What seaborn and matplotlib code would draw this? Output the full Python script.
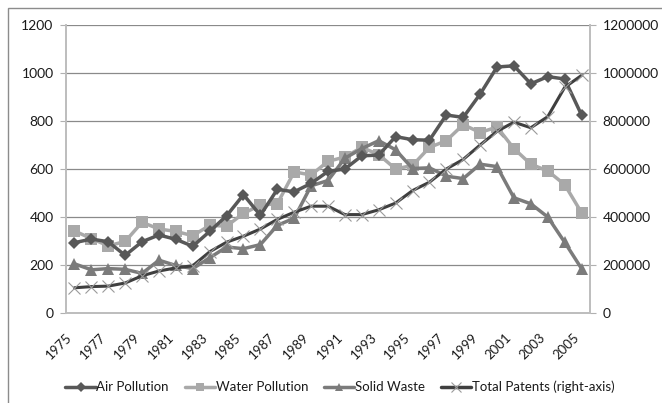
import matplotlib
matplotlib.use("Agg")
import matplotlib.pyplot as plt
import matplotlib.transforms as mtransforms
import seaborn as sns
import pandas as pd
import numpy as np
from matplotlib.lines import Line2D

years = list(range(1975, 2006))
air = [293, 308, 297, 240, 297, 325, 307, 278, 340, 405, 493, 407, 515, 505, 540, 590,
       600, 655, 658, 735, 722, 720, 825, 815, 912, 1025, 1030, 955, 985, 975, 825]
water = [342, 310, 280, 298, 378, 350, 340, 322, 365, 362, 415, 450, 455, 588, 575, 632,
         650, 690, 660, 600, 615, 690, 718, 785, 752, 775, 685, 620, 592, 535, 418]
solid = [205, 180, 185, 182, 165, 220, 198, 185, 230, 275, 268, 285, 365, 395, 530, 552,
         645, 685, 718, 680, 602, 605, 570, 560, 620, 610, 480, 455, 400, 295, 185]
total = [105000, 110000, 112000, 125000, 155000, 175000, 188000, 197000, 255000, 295000,
         320000, 350000, 390000, 420000, 445000, 445000, 410000, 410000, 430000, 458000,
         510000, 545000, 600000, 640000, 700000, 757000, 795000, 772000, 818000, 940000, 990000]
labels = ["Air Pollution", "Water Pollution", "Solid Waste", "Total Patents (right-axis)"]

sns.set_style("white")
plt.rcParams['font.family'] = ['Lato', 'DejaVu Sans']
plt.rcParams['text.color'] = "#1a1a1a"
plt.rcParams['xtick.color'] = "#1a1a1a"
plt.rcParams['ytick.color'] = "#1a1a1a"

fig = plt.figure(figsize=(6.62, 4.03), dpi=100)
fig.patches.append(plt.Rectangle((8/662, -0.1), 1.2, 1 - 8/403 + 0.1, transform=fig.transFigure,
                                 fill=False, edgecolor="#8c8c8c", lw=1.0))
ax = fig.add_axes([66/662, 90/403, 524/662, 288/403])
ax2 = ax.twinx()

idx = np.arange(len(years))
df = pd.DataFrame({"i": idx, "air": air, "water": water, "solid": solid, "total": total})

c_air, c_water, c_solid, c_total = "#585858", "#a9a9a9", "#7b7b7b", "#3f3f3f"

sns.lineplot(data=df, x="i", y="water", ax=ax, color=c_water, lw=2.5, marker="s", markersize=8,
             markeredgewidth=0, zorder=3)
sns.lineplot(data=df, x="i", y="solid", ax=ax, color=c_solid, lw=2.5, marker="^", markersize=8,
             markeredgewidth=0, zorder=3)
sns.lineplot(data=df, x="i", y="air", ax=ax, color=c_air, lw=2.5, marker="D", markersize=6,
             markeredgewidth=0, zorder=4)
sns.lineplot(data=df, x="i", y="total", ax=ax2, color=c_total, lw=2.2, marker="x", markersize=9,
             markeredgewidth=0.8, markeredgecolor="#9a9a9a", zorder=5)

ax.set_xlim(-0.5, len(years) - 0.5)
ax.set_ylim(0, 1200)
ax2.set_ylim(0, 1200000)
ax.set_yticks(range(0, 1201, 200))
ax2.set_yticks(range(0, 1200001, 200000))
ax2.set_yticklabels([str(v) for v in range(0, 1200001, 200000)])
ax.grid(axis="y", color="#8a8a8a", lw=0.9)
ax.set_axisbelow(True)
ax.set_xlabel("")
ax.set_ylabel("")
ax2.set_ylabel("")

fs = 10
ax.set_xticks(idx[::2])
ax.set_xticklabels([str(y) for y in years[::2]], rotation=45, fontsize=9.5, ha="right", va="top")
offset = mtransforms.ScaledTranslation(5/100, 0, fig.dpi_scale_trans)
for lab in ax.get_xticklabels():
    lab.set_transform(lab.get_transform() + offset)
ax.set_xticks(np.arange(-0.5, len(years), 1), minor=True)
ax.tick_params(axis="x", which="major", length=0, pad=13)
ax.tick_params(axis="x", which="minor", length=4, color="#b0b0b0", width=1)
ax.tick_params(axis="y", which="major", length=4, color="#b0b0b0", labelsize=fs, pad=5)
ax2.tick_params(axis="y", which="major", length=4, color="#b0b0b0", labelsize=fs, pad=5)
for a in (ax, ax2):
    a.spines["top"].set_visible(False)
    for s in ["left", "right", "bottom"]:
        a.spines[s].set_color("#bdbdbd")
        a.spines[s].set_linewidth(1.2)

handles = [
    Line2D([], [], color=c_air, lw=2.5, marker="D", markersize=5, markeredgewidth=0),
    Line2D([], [], color=c_water, lw=2.5, marker="s", markersize=6, markeredgewidth=0),
    Line2D([], [], color=c_solid, lw=2.5, marker="^", markersize=6, markeredgewidth=0),
    Line2D([], [], color=c_total, lw=2.5, marker="x", markersize=7, markeredgewidth=0.8,
           markeredgecolor="#9a9a9a"),
]
fig.legend(handles, labels, loc="center", bbox_to_anchor=(340/662, 16/403), ncol=4,
           frameon=False, fontsize=9.5, handlelength=2.3, handletextpad=0.05, columnspacing=1.2)

fig.savefig("out.png", dpi=100)
